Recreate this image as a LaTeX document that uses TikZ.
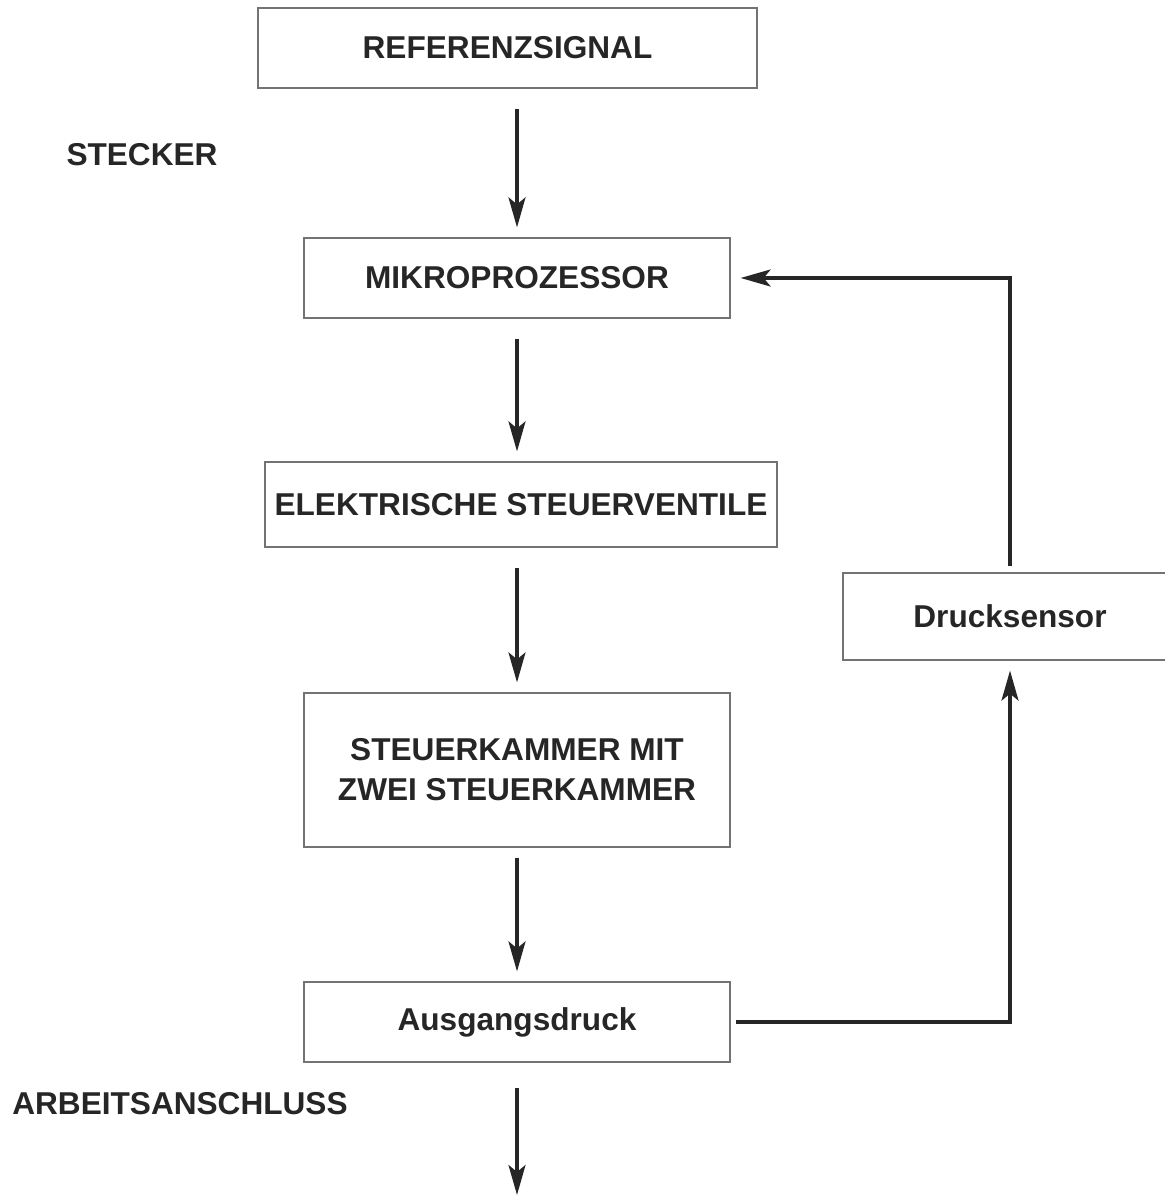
\documentclass[tikz,border=0pt]{standalone}
\usepackage{fontspec}
\setmainfont{Liberation Sans}
\usetikzlibrary{arrows.meta}
\tikzset{
    box/.style={draw=black!55, line width=0.6pt, align=center, inner sep=0pt,
        font=\fontsize{15.8}{20}\selectfont\bfseries, text=black!85},
    lbl/.style={font=\fontsize{15.8}{20}\selectfont\bfseries, text=black!85},
    flow/.style={-{Stealth[length=15pt, width=8.5pt, inset=3.5pt]}, line width=1.6pt, draw=black!85}
}
\begin{document}
\begin{tikzpicture}[x=0.5pt, y=-0.5pt]
                \useasboundingbox (0,0) rectangle (1165,1198);
                \clip (0,0) rectangle (1165,1198);

                % Kette der Bloecke
                \node[box, minimum width=249.5pt, minimum height=40pt] (ref) at (507.5,48) {REFERENZSIGNAL};
                \node[box, minimum width=213pt, minimum height=40pt] (mikro) at (517,278) {MIKROPROZESSOR};
                \node[box, minimum width=256pt, minimum height=42.5pt] (elek) at (521,504.5) {ELEKTRISCHE STEUERVENTILE};
                \node[box, minimum width=213pt, minimum height=77pt] (kammer) at (517,770) {STEUERKAMMER MIT\\ZWEI STEUERKAMMER};
                \node[box, minimum width=213pt, minimum height=40pt] (ausgang) at (517,1022) {Ausgangsdruck};
                \node[box, minimum width=167pt, minimum height=43.5pt] (sensor) at (1010,616.5) {Drucksensor};

                \node[lbl] (stecker) at (142,155) {STECKER};
                \node[lbl] (arbeit) at (180,1104) {ARBEITSANSCHLUSS};
                \coordinate (aus) at (517,1195);

                % Pfeile
                \draw[flow, shorten <=10pt, shorten >=5pt] (ref.south -| mikro.north) -- (mikro.north);
                \draw[flow, shorten <=10pt, shorten >=5pt] (mikro.south) -- (mikro.south |- elek.north);
                \draw[flow, shorten <=10pt, shorten >=5pt] (mikro.south |- elek.south) -- (kammer.north);
                \draw[flow, shorten <=5pt, shorten >=5pt] (kammer.south) -- (ausgang.north);
                \draw[flow, shorten <=12.5pt] (ausgang.south) -- (aus);

                % Rueckfuehrung
                \draw[flow, shorten <=2.5pt, shorten >=5pt] (ausgang.east) -| (sensor.south);
                \draw[flow, shorten <=3pt, shorten >=5pt] (sensor.north) |- (mikro.east);
\end{tikzpicture}
\end{document}
